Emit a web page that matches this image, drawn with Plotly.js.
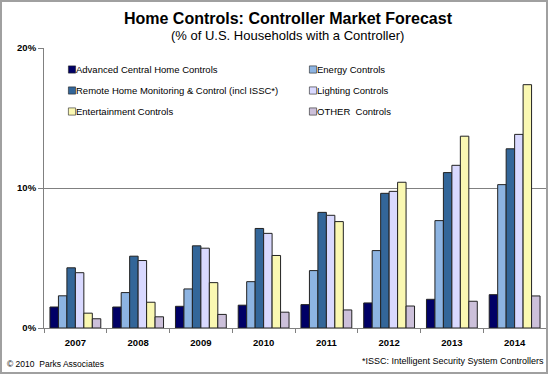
<!DOCTYPE html>
<html>
<head>
<meta charset="utf-8">
<script src="https://cdn.plot.ly/plotly-3.0.1.min.js"></script>
<style>
  body { margin: 0; background: #fff; }
  #wrap { position: relative; width: 550px; height: 375px; }
  #plot { position: absolute; left: 0; top: 0; width: 550px; height: 375px; }
  #frame { position: absolute; left: 0; top: 0; width: 548px; height: 374px; box-sizing: border-box; border: 2px solid #a0a0a0; pointer-events: none; }
</style>
</head>
<body>
<div id="wrap"><div id="plot"></div><div id="frame"></div></div>
<script>
const years = ['2007', '2008', '2009', '2010', '2011', '2012', '2013', '2014'];
const seriesNames = [
  'Advanced Central Home Controls',
  'Energy Controls',
  'Remote Home Monitoring & Control (incl ISSC*)',
  'Lighting Controls',
  'Entertainment Controls',
  'OTHER  Controls'
];
const advanced      = [1.5, 1.5, 1.55, 1.63, 1.67, 1.79, 2.05, 2.38];
const energy        = [2.3, 2.53, 2.79, 3.31, 4.1, 5.53, 7.67, 10.24];
const remote        = [4.3, 5.13, 5.87, 7.11, 8.26, 9.62, 11.1, 12.8];
const lighting      = [3.95, 4.82, 5.7, 6.76, 8.05, 9.76, 11.62, 13.83];
const entertainment = [1.06, 1.84, 3.24, 5.18, 7.6, 10.41, 13.7, 17.38];
const other         = [0.66, 0.8, 0.97, 1.13, 1.29, 1.57, 1.91, 2.29];
const yTicks = [0, 10, 20];
const yTickLabels = ['0%', '10%', '20%'];

const values = [advanced, energy, remote, lighting, entertainment, other];
const colors = ['#000066', '#8DB4E2', '#336699', '#D9D9FF', '#FAF8B2', '#CCC0DA'];
const FONT = 'Liberation Sans, Arial, sans-serif';

const traces = values.map((v, i) => ({
  type: 'bar',
  name: seriesNames[i],
  x: years,
  y: v,
  marker: { color: colors[i], line: { color: '#222222', width: 1 } },
  hoverinfo: 'skip'
}));

const layout = {
  width: 550, height: 375,
  margin: { l: 44, r: 4, t: 48, b: 47 },
  paper_bgcolor: '#ffffff',
  plot_bgcolor: '#ffffff',
  font: { family: FONT, color: '#000' },
  barmode: 'group',
  bargap: 0.19,
  bargroupgap: 0,
  showlegend: true,
  legend: {
    orientation: 'h',
    x: 0, y: 0.975, xanchor: 'left', yanchor: 'top',
    entrywidth: 196, entrywidthmode: 'pixels',
    font: { size: 9.5, family: FONT },
    itemwidth: 30,
    bgcolor: 'rgba(0,0,0,0)'
  },
  xaxis: {
    type: 'category',
    tickvals: years,
    ticktext: years,
    tickfont: { size: 9.5, family: FONT, weight: 'bold' },
    showline: true, linecolor: '#808080', linewidth: 1,
    ticks: 'outside', ticklen: 4, tickcolor: '#808080',
    tickson: 'boundaries',
    ticklabelstandoff: 6,
    showgrid: false, zeroline: false,
    fixedrange: true
  },
  yaxis: {
    range: [0, 20],
    tickvals: yTicks,
    ticktext: yTickLabels,
    tickfont: { size: 9.5, family: FONT, weight: 'bold' },
    showline: true, linecolor: '#808080', linewidth: 1,
    ticks: 'outside', ticklen: 5, tickcolor: '#808080',
    showgrid: true, gridcolor: '#808080', gridwidth: 1,
    zeroline: false,
    fixedrange: true
  },
  title: {
    text: '<b>Home Controls: Controller Market Forecast</b>',
    font: { size: 16, family: FONT, color: '#000' },
    x: 0.486, xanchor: 'center', xref: 'paper',
    y: 0.951, yanchor: 'middle'
  },
  annotations: [
    { text: '(% of U.S. Households with a Controller)', xref: 'paper', yref: 'paper',
      x: 0.486, y: 1.043, xanchor: 'center', yanchor: 'middle', showarrow: false,
      font: { size: 13, family: FONT, color: '#000' } },
    { text: '© 2010  Parks Associates', xref: 'paper', yref: 'paper',
      x: -0.078, y: -0.129, xanchor: 'left', yanchor: 'middle', showarrow: false,
      font: { size: 8.5, family: FONT, color: '#000' } },
    { text: '*ISSC: Intelligent Security System Controllers', xref: 'paper', yref: 'paper',
      x: 1.0, y: -0.118, xanchor: 'right', yanchor: 'middle', showarrow: false,
      font: { size: 9, family: FONT, color: '#000' } }
  ]
};

function parseT(el) {
  const m = /translate\(\s*([-\d.]+)[ ,]+([-\d.]+)\s*\)/.exec(el.getAttribute('transform') || '');
  return m ? { x: +m[1], y: +m[2] } : { x: 0, y: 0 };
}

Plotly.newPlot('plot', traces, layout, { displayModeBar: false, staticPlot: true }).then(() => {
  // smaller legend swatches placed right next to their text, as in the reference
  document.querySelectorAll('#plot .legend .legendpoints path').forEach(p => {
    const t = p.getAttribute('transform') || '';
    p.setAttribute('transform', t + ' translate(16,0) scale(0.6)');
  });
  // slightly taller legend rows (reference spacing ~21px)
  const items = Array.from(document.querySelectorAll('#plot .legend .traces'));
  const parsed = items.map(g => Object.assign({ g }, parseT(g)));
  const rows = Array.from(new Set(parsed.map(o => o.y))).sort((a, b) => a - b);
  parsed.forEach(o => {
    const r = rows.indexOf(o.y);
    o.g.setAttribute('transform', `translate(${o.x},${rows[0] + r * 21})`);
  });
  // nudge whole legend left so its text starts where the reference's does
  const leg = document.querySelector('#plot .legend');
  if (leg) {
    const t = parseT(leg);
    leg.setAttribute('transform', `translate(${t.x - 8},${t.y})`);
  }
});
</script>
</body>
</html>
